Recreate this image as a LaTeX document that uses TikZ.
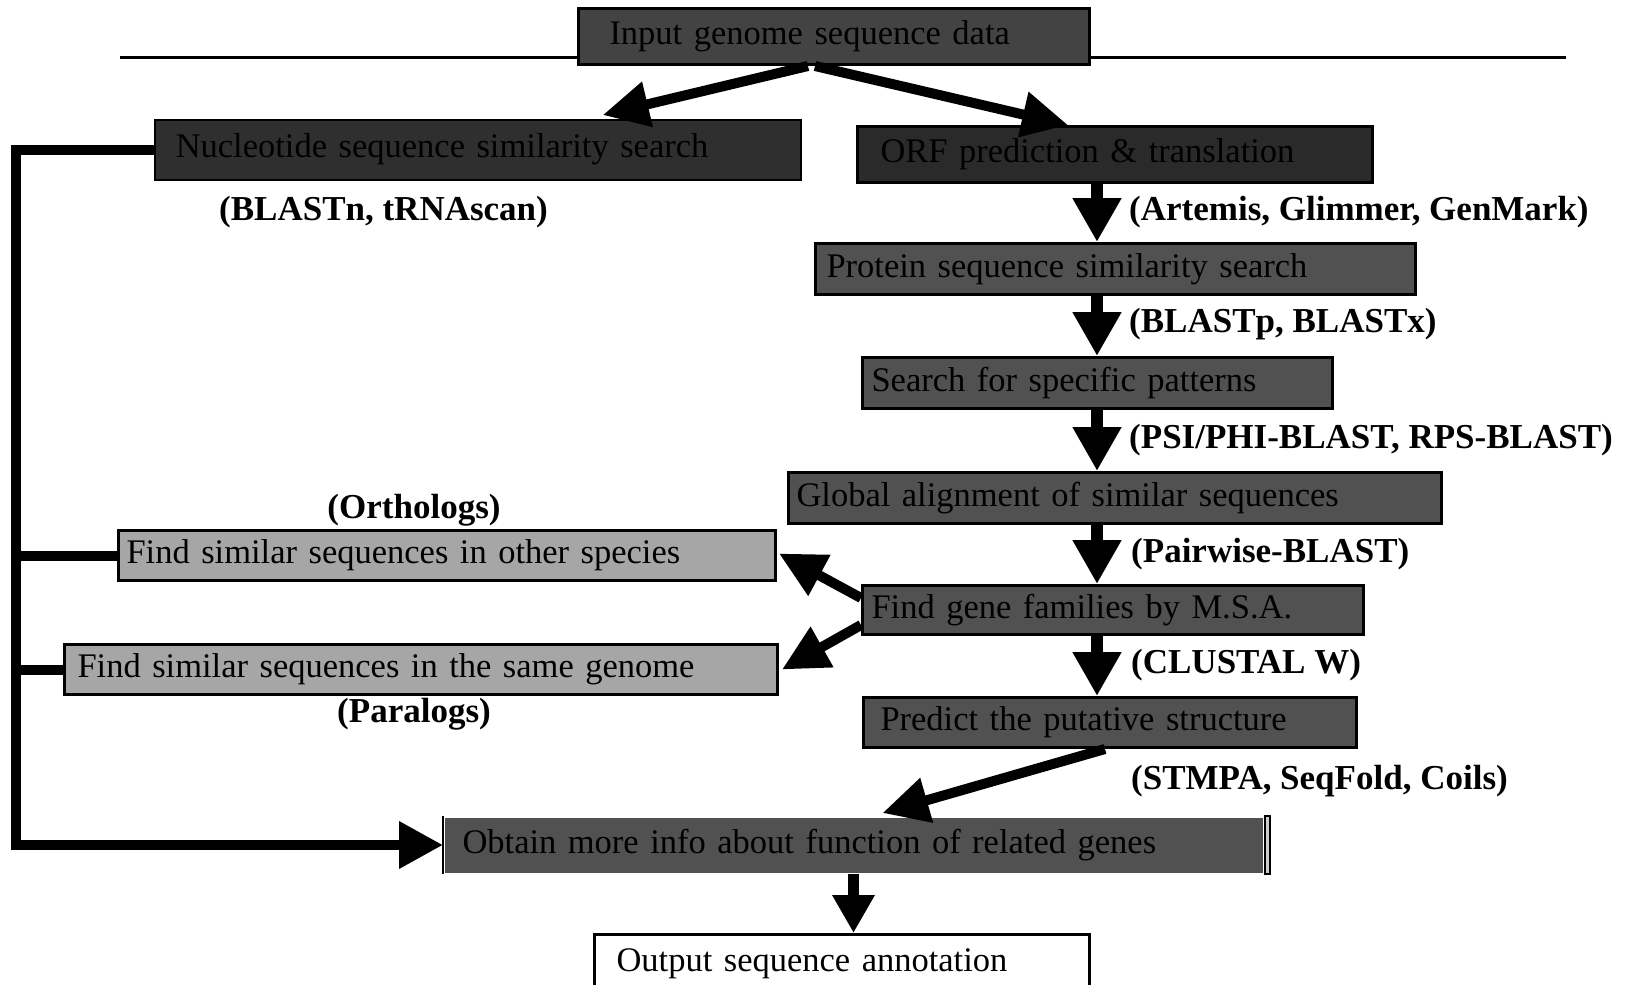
\documentclass[tikz,border=0pt]{standalone}
\usepackage{fontspec}
\setmainfont{Liberation Serif}
\usetikzlibrary{arrows.meta}
\definecolor{cin}{HTML}{434343}
\definecolor{cnuc}{HTML}{2F2F2F}
\definecolor{corf}{HTML}{2A2A2A}
\definecolor{cmid}{HTML}{515151}
\definecolor{clight}{HTML}{A6A6A6}
\begin{document}
\begin{tikzpicture}[x=1pt,y=-1pt,
  box/.style={draw=black, line width=3pt, anchor=north west, inner ysep=0pt, align=left,
    font=\fontsize{34.5pt}{40pt}\selectfont, text=black},
  lab/.style={anchor=west, inner sep=0pt, font=\bfseries\fontsize{35pt}{40pt}\selectfont},
  clab/.style={anchor=center, inner sep=0pt, font=\bfseries\fontsize{35pt}{40pt}\selectfont},
  vflow/.style={line width=12pt, -{Triangle[length=44pt,width=46pt]}},
  diag/.style={line width=10pt, -{Triangle[length=46pt,width=44pt]}},
  bus/.style={line width=10pt, line join=miter},
  rule/.style={line width=3pt}]
\useasboundingbox (0,0) rectangle (1634,985);

% top rule
\coordinate (r1) at (120,57);
\coordinate (r2) at (1566,57);
\draw[rule] (r1) -- (r2);

% boxes
\node[box, fill=cin, minimum height=56pt, inner xsep=31pt, text width=449pt] (in) at (577,7) {Input genome sequence data};
\node[box, fill=cnuc, line width=1.5pt, minimum height=60pt, inner xsep=21pt, text width=604pt] (nuc) at (154,119) {Nucleotide sequence similarity search};
\node[box, fill=corf, minimum height=56pt, inner xsep=23pt, text width=469pt] (orf) at (856,125) {ORF prediction \& translation};
\node[box, fill=cmid, minimum height=51pt, inner xsep=11pt, text width=578pt] (prot) at (814,242) {Protein sequence similarity search};
\node[box, fill=cmid, minimum height=51pt, inner xsep=9pt, text width=452pt] (pat) at (861,356) {Search for specific patterns};
\node[box, fill=cmid, minimum height=51pt, inner xsep=8pt, text width=637pt] (glob) at (787,471) {Global alignment of similar sequences};
\node[box, fill=cmid, minimum height=49pt, inner xsep=9pt, text width=483pt] (gene) at (861,584) {Find gene families by M.S.A.};
\node[box, fill=cmid, minimum height=50pt, inner xsep=17pt, text width=459pt] (pred) at (862,696) {Predict the putative structure};
\node[box, fill=clight, minimum height=50pt, inner xsep=8pt, text width=641pt] (oth) at (117,529) {Find similar sequences in other species};
\node[box, fill=clight, minimum height=50pt, inner xsep=13pt, text width=687pt] (same) at (63,643) {Find similar sequences in the same genome};
\node[box, draw=none, fill=cmid, minimum height=55pt, inner xsep=18pt, text width=782pt] (obt) at (443,816) {Obtain more info about function of related genes};
\draw[line width=2pt] (obt.north west) -- (obt.south west);
\draw[line width=2pt, fill=gray!40] ([xshift=1pt]obt.north east) rectangle ([xshift=6pt]obt.south east);
\node[box, fill=white, minimum height=58pt, inner xsep=22pt, text width=451pt] (out) at (593,933) {Output sequence annotation};

% labels
\node[lab] (l1) at (219,212) {(BLASTn, tRNAscan)};
\node[lab] (l2) at (1129,212) {(Artemis, Glimmer, GenMark)};
\node[lab] (l3) at (1129,324) {(BLASTp, BLASTx)};
\node[lab] (l4) at (1129,440) {(PSI/PHI-BLAST, RPS-BLAST)};
\node[lab] (l5) at (1131,554) {(Pairwise-BLAST)};
\node[lab] (l6) at (1131,665) {(CLUSTAL W)};
\node[lab] (l7) at (1131,781) {(STMPA, SeqFold, Coils)};
\node[clab] (l8) at (414,510) {(Orthologs)};
\node[clab] (l9) at (414,714) {(Paralogs)};

% connectors
\coordinate (col) at (1097,0);
\draw[diag] ([xshift=-26pt]in.south) -- ([xshift=125pt,yshift=4pt]nuc.north);
\draw[diag] ([xshift=-19pt]in.south) -- ([xshift=-47pt]orf.north);
\draw[vflow] (orf.south -| col) -- (prot.north -| col);
\draw[vflow] (prot.south -| col) -- (pat.north -| col);
\draw[vflow] (pat.south -| col) -- (glob.north -| col);
\draw[vflow] (glob.south -| col) -- (gene.north -| col);
\draw[vflow] (gene.south -| col) -- (pred.north -| col);
\draw[diag] ([yshift=12pt]gene.west) -- ([xshift=2pt,yshift=2pt]oth.east);
\draw[diag] ([yshift=-15pt]gene.west) -- ([xshift=3pt]same.east);
\draw[diag] ([xshift=-5pt]pred.south) -- ([xshift=29pt,yshift=3pt]obt.north);
\draw[line width=11pt, -{Triangle[length=38pt,width=40pt]}] (obt.south) -- (obt.south |- out.north);

% left bus
\coordinate (bl) at (16,0);
\draw[bus, -{Triangle[length=44pt,width=45pt]}] (nuc.west) -| (obt.west -| bl) -- (obt.west);
\draw[bus] (oth.west) -- (oth.west -| bl);
\draw[bus] (same.west) -- (same.west -| bl);
\end{tikzpicture}
\end{document}
